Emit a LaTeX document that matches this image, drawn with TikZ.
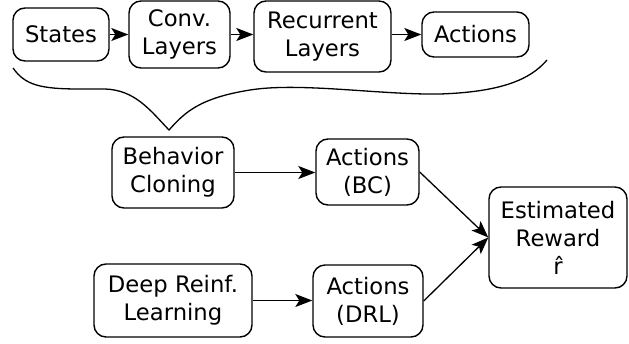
\documentclass[tikz,border=0pt]{standalone}
\usepackage{fontspec}
\setmainfont{DejaVu Sans}
\usetikzlibrary{arrows.meta}
\begin{document}
\begin{tikzpicture}[x=1pt,y=-1pt,
  box/.style={draw, line width=1.4pt, rounded corners=12pt, align=center, inner sep=0pt,
    font=\fontsize{22.7pt}{28pt}\selectfont},
  arr/.style={line width=1.3pt, -{Stealth[length=17pt,width=13pt,inset=4pt]}},
  brace/.style={line width=1.3pt}]
\useasboundingbox (0,0) rectangle (629,343);
\node[box, minimum width=96pt, minimum height=53pt] (states) at (61,34.5) {States};
\node[box, minimum width=101pt, minimum height=67pt] (conv) at (179.5,34.5) {Conv.\\Layers};
\node[box, minimum width=137pt, minimum height=71pt] (rec) at (322.5,36.5) {Recurrent\\Layers};
\node[box, minimum width=107pt, minimum height=45pt] (act) at (475.5,34.5) {Actions};
\node[box, minimum width=122pt, minimum height=71pt] (bc) at (173,172.5) {Behavior\\Cloning};
\node[box, minimum width=103pt, minimum height=66pt] (abc) at (367.5,172) {Actions\\(BC)};
\node[box, minimum width=138pt, minimum height=101pt] (est) at (558,237.5) {Estimated\\Reward\\r̂};
\node[box, minimum width=158pt, minimum height=73pt] (drl) at (173,300.5) {Deep Reinf.\\Learning};
\node[box, minimum width=110pt, minimum height=72pt] (adrl) at (368,301) {Actions\\(DRL)};
\draw[arr] (states.east) -- (states.east -| conv.west);
\draw[arr] (conv.east) -- (conv.east -| rec.west);
\draw[arr] (act.west -| rec.east) -- (act.west);
\draw[arr] (bc.east) -- (bc.east -| abc.west);
\draw[arr] (drl.east) -- (drl.east -| adrl.west);
\draw[arr] (abc.east) -- (est.west);
\draw[arr] (adrl.east) -- (est.west);
\coordinate (bl) at (13,68);
\coordinate (bt) at (169,130);
\coordinate (br) at (547,60);
\draw[brace] (bl) .. controls (25,85) and (40,89) .. (80,89) -- (105,89)
  .. controls (135,90) and (150,110) .. (bt)
  .. controls (185,112) and (200,98) .. (250,90)
  .. controls (300,82) and (380,95) .. (440,94)
  .. controls (500,92) and (530,80) .. (br);
\end{tikzpicture}
\end{document}
